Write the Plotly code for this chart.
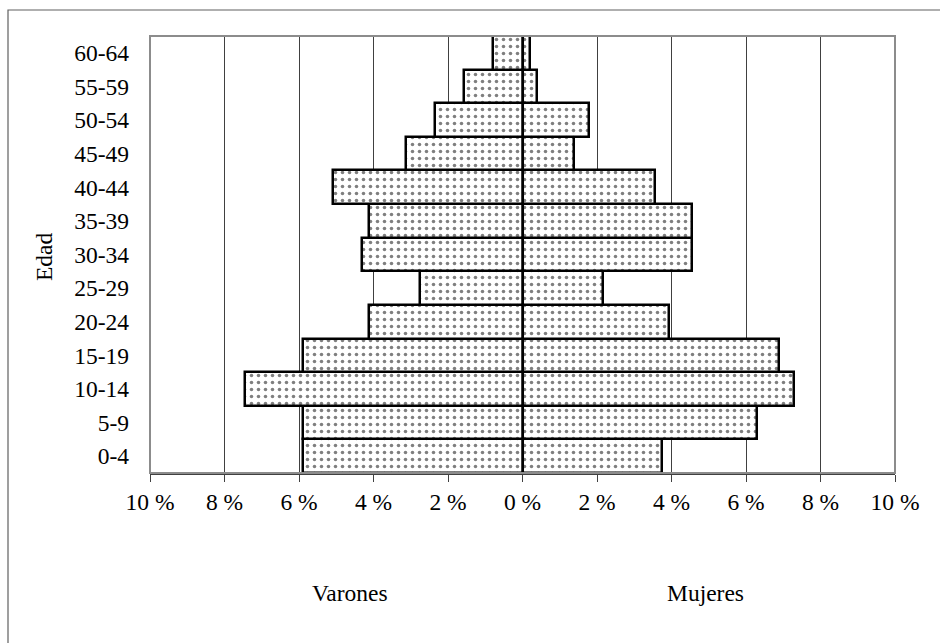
import plotly.graph_objects as go

edades = ["0-4", "5-9", "10-14", "15-19", "20-24", "25-29", "30-34",
          "35-39", "40-44", "45-49", "50-54", "55-59", "60-64"]
varones = [5.9, 5.9, 7.45, 5.9, 4.12, 2.75, 4.31, 4.13, 5.1, 3.13, 2.35, 1.57, 0.79]
mujeres = [3.75, 6.3, 7.28, 6.89, 3.94, 2.17, 4.54, 4.54, 3.55, 1.38, 1.79, 0.39, 0.2]
tick_vals = [-10, -8, -6, -4, -2, 0, 2, 4, 6, 8, 10]
tick_text = ["10 %", "8 %", "6 %", "4 %", "2 %", "0 %", "2 %", "4 %", "6 %", "8 %", "10 %"]

FONT = "Liberation Serif, Times New Roman, serif"
FS = 23.5
pattern = dict(shape=".", fgcolor="black", bgcolor="white", size=7, solidity=0.2)

fig = go.Figure()
fig.add_trace(go.Bar(y=edades, x=[-v for v in varones], orientation="h", name="Varones",
                     marker=dict(color="white", line=dict(color="black", width=2.5), pattern=pattern),
                     showlegend=False))
fig.add_trace(go.Bar(y=edades, x=mujeres, orientation="h", name="Mujeres",
                     marker=dict(color="white", line=dict(color="black", width=2.5), pattern=pattern),
                     showlegend=False))

# plot area: x 150..895, y 36..473
fig.update_layout(
    width=940, height=643,
    margin=dict(l=150, r=45, t=36, b=170),
    paper_bgcolor="white", plot_bgcolor="white",
    barmode="overlay", bargap=0,
    font=dict(family=FONT, size=FS, color="black"),
    xaxis=dict(range=[-10, 10], tickvals=tick_vals, ticktext=tick_text,
               showgrid=True, gridcolor="#404040", gridwidth=1,
               showline=True, linecolor="#404040", linewidth=1.5,
               ticks="outside", ticklen=7, tickcolor="#404040", tickwidth=1,
               zeroline=False, tickfont=dict(family=FONT, size=FS)),
    yaxis=dict(showgrid=False, showline=False, zeroline=False,
               ticks="", ticklabelstandoff=20, tickfont=dict(family=FONT, size=FS)),
    shapes=[
        dict(type="rect", xref="paper", yref="paper", x0=0, x1=1, y0=0, y1=1,
             line=dict(color="#8c8c8c", width=2), layer="above"),
        dict(type="rect", xref="paper", yref="paper", x0=(8 - 150) / 745, x1=1.3, y0=-0.8,
             y1=(473 - 10) / 437, line=dict(color="#606060", width=1.2)),
    ],
    annotations=[
        dict(text="Edad", xref="paper", yref="paper", x=(44 - 150) / 745, y=(473 - 257) / 437,
             showarrow=False, textangle=-90, font=dict(family=FONT, size=FS),
             xanchor="center", yanchor="middle"),
        dict(text="Varones", xref="paper", yref="paper", x=(350 - 150) / 745, y=(473 - 593) / 437,
             showarrow=False, font=dict(family=FONT, size=FS), xanchor="center", yanchor="middle"),
        dict(text="Mujeres", xref="paper", yref="paper", x=(705 - 150) / 745, y=(473 - 593) / 437,
             showarrow=False, font=dict(family=FONT, size=FS), xanchor="center", yanchor="middle"),
    ],
)

fig.write_html("out.html", config={"displayModeBar": False},
               post_script="document.body.style.margin='0';document.body.style.overflow='hidden';")
